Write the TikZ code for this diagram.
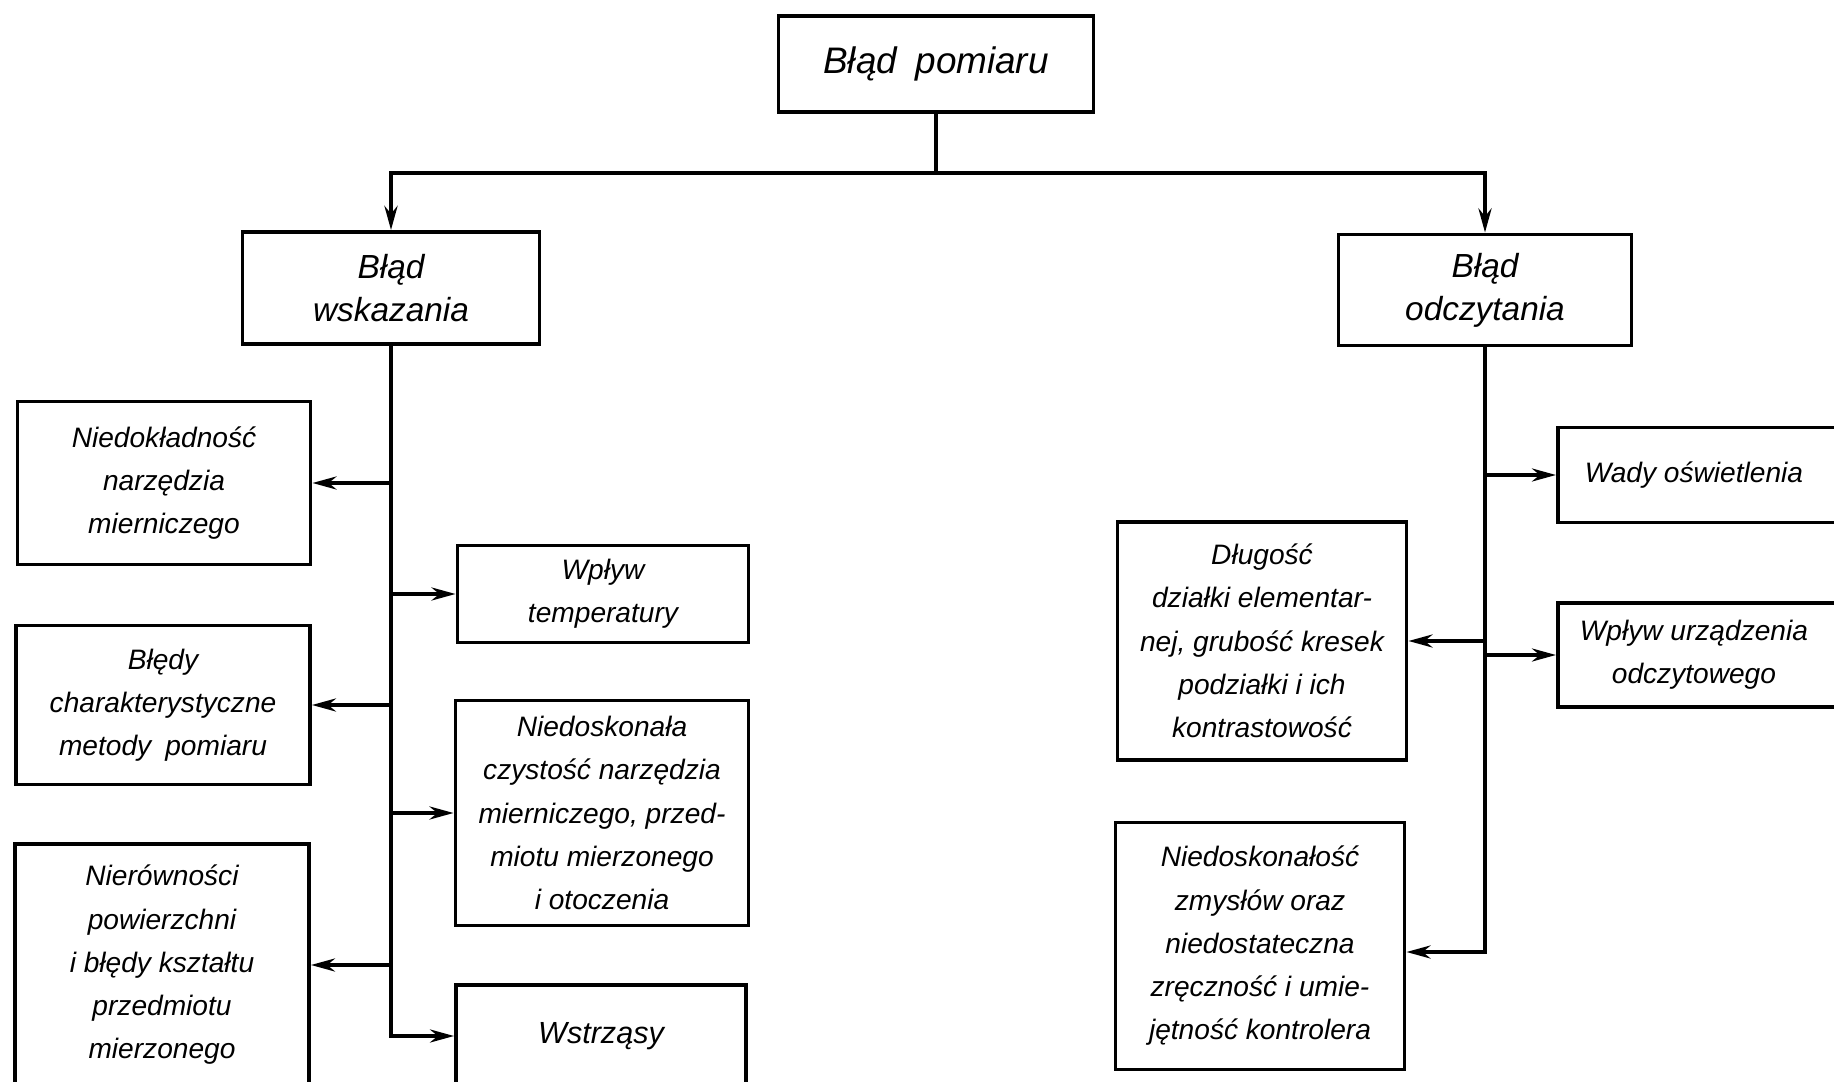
\documentclass[tikz,border=0pt]{standalone}
\usepackage{fontspec}
\setmainfont{Liberation Sans}
\usetikzlibrary{arrows.meta}

\tikzset{
  blok/.style={draw, line width=1.1pt, align=center, inner sep=0pt,
    font=\itshape\fontsize{8}{12.3}\selectfont},
  naglowek/.style={blok, font=\itshape\fontsize{9.5}{12.3}\selectfont},
  galaz/.style={line width=1.1pt, -{Stealth[length=2.4mm,width=1.3mm]}},
}

\begin{document}
\begin{tikzpicture}[x=0.1mm,y=-0.1mm]
  \useasboundingbox (0,0) rectangle (1834,1082);
  \clip (0,0) rectangle (1834,1082);

  % Bloki główne
  \node[naglowek, minimum width=31.5mm, minimum height=9.6mm,
    font=\itshape\fontsize{10.5}{13}\selectfont] (pom) at (936,64) {Błąd\enspace pomiaru};
  \node[naglowek, minimum width=29.7mm, minimum height=11.2mm] (wsk) at (391,288) {Błąd\\wskazania};
  \node[naglowek, minimum width=29.3mm, minimum height=11.1mm] (odc) at (1485,290) {Błąd\\odczytania};

  % Gałąź lewa
  \node[blok, minimum width=29.3mm, minimum height=16.3mm] (b1) at (164,483)
    {Niedokładność\\narzędzia\\mierniczego};
  \node[blok, minimum width=29.4mm, minimum height=15.9mm] (b2) at (163,705)
    {Błędy\\charakterystyczne\\metody\enspace pomiaru};
  \node[blok, minimum width=29.4mm, minimum height=24.2mm] (b3) at (162,965)
    {Nierówności\\powierzchni\\i błędy kształtu\\przedmiotu\\mierzonego};
  \node[blok, minimum width=29.1mm, minimum height=9.7mm] (b4) at (603,594)
    {Wpływ\\temperatury};
  \node[blok, minimum width=29.3mm, minimum height=22.5mm] (b5) at (602,813)
    {Niedoskonała\\czystość narzędzia\\mierniczego, przed-\\miotu mierzonego\\i otoczenia};
  \node[blok, minimum width=29.0mm, minimum height=10.2mm,
    font=\itshape\fontsize{8.7}{12}\selectfont] (b6) at (601,1036) {Wstrząsy};

  % Gałąź prawa
  \node[blok, anchor=west, minimum width=32mm, minimum height=9.5mm] (b7) at (1556,475)
    {Wady oświetlenia\rule{4.8mm}{0pt}};
  \node[blok, anchor=west, minimum width=32mm, minimum height=10.4mm] (b8) at (1556,655)
    {Wpływ urządzenia\rule{4.8mm}{0pt}\\odczytowego\rule{4.8mm}{0pt}};
  \node[blok, minimum width=28.9mm, minimum height=23.8mm] (b9) at (1262,641)
    {Długość\\działki elementar-\\nej, grubość kresek\\podziałki i ich\\kontrastowość};
  \node[blok, minimum width=28.9mm, minimum height=24.7mm] (b10) at (1260,946)
    {Niedoskonałość\\zmysłów oraz\\niedostateczna\\zręczność i umie-\\jętność kontrolera};

  % Połączenia
  \coordinate (rozg) at (936,173);
  \coordinate (k10) at (1485,952);
  \draw[line width=1.1pt] (pom) -- (rozg);
  \draw[galaz, line width=1.4pt] (rozg) -| (wsk);
  \draw[galaz, line width=1.4pt] (rozg) -| (odc);

  \draw[galaz] (wsk) -- (wsk.south |- b6) -- (b6);
  \foreach \b in {b1,b2,b3,b4,b5}
    \draw[galaz] (wsk.south |- \b) -- (\b);

  \draw[galaz] (odc) -- (k10) -- (k10 -| b10.east);
  \foreach \b in {b7,b8,b9}
    \draw[galaz] (odc.south |- \b) -- (\b);
\end{tikzpicture}
\end{document}
